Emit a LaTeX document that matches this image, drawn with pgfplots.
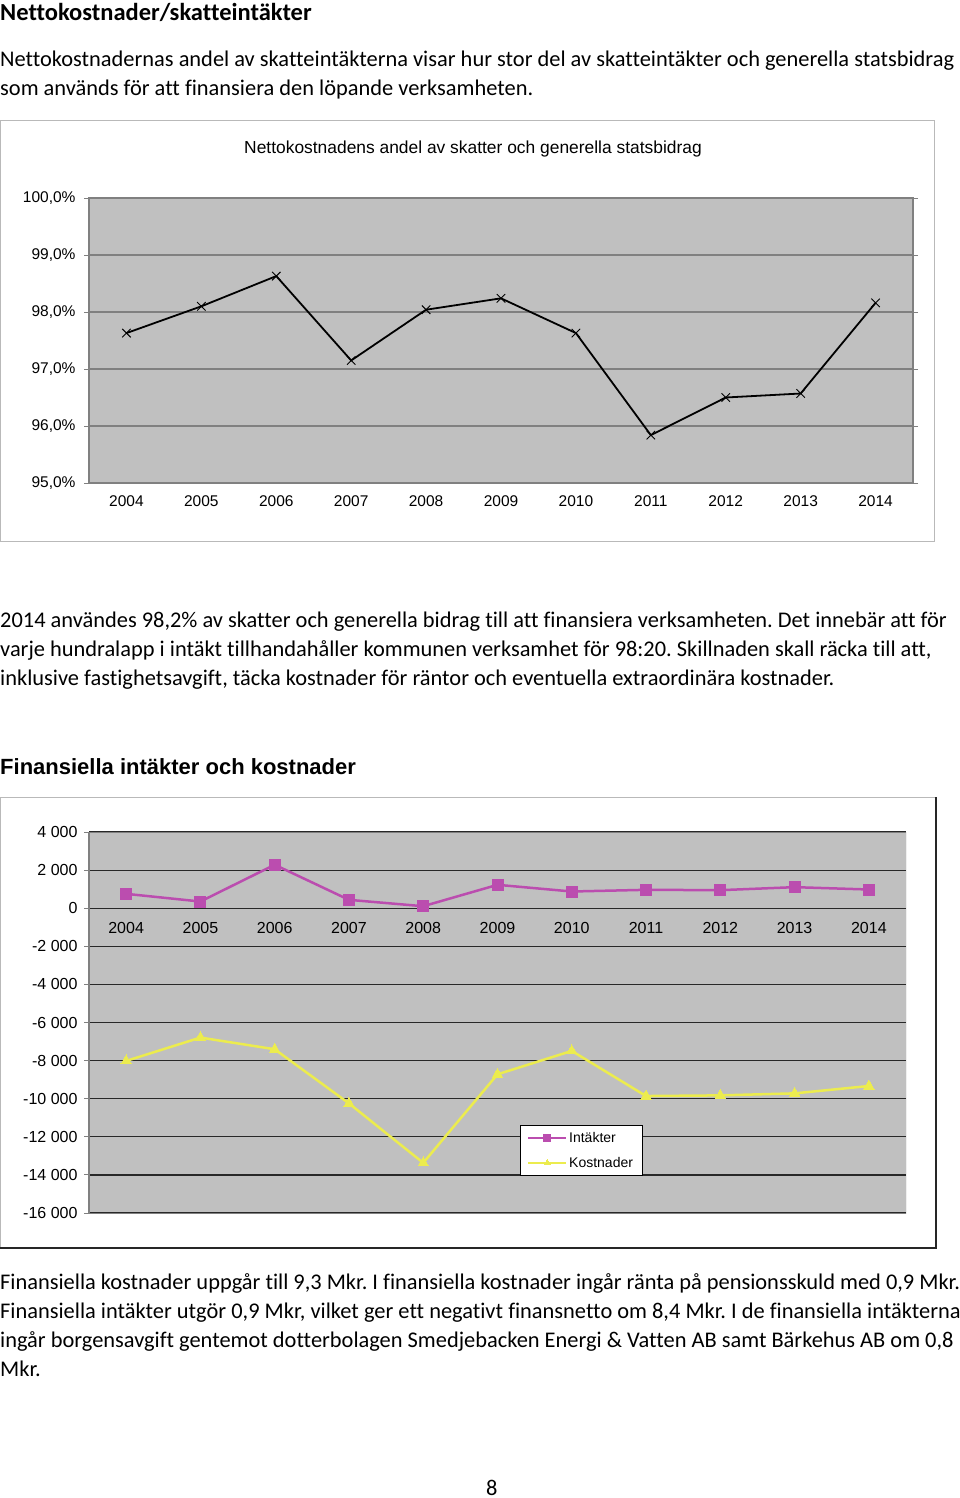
\documentclass[border=0pt]{standalone}
\usepackage{fontspec}
\setmainfont{Carlito}[Ligatures=NoCommon]
\newfontfamily\arial{Liberation Sans}
\usepackage{pgfplots}
\pgfplotsset{compat=1.18}
\frenchspacing

\definecolor{plotbg}{RGB}{192,192,192}
\definecolor{gridgray}{RGB}{128,128,128}
\definecolor{griddark}{RGB}{40,40,40}
\definecolor{intakt}{RGB}{187,77,175}
\definecolor{kostn}{RGB}{236,236,78}

\begin{document}
\begin{tikzpicture}
\useasboundingbox (0pt,0pt) rectangle (960pt,-1498pt);
\fill[white] (0pt,0pt) rectangle (960pt,-1498pt);

% --- page text
\node[anchor=base west, inner sep=0pt, font=\fontsize{24.5}{28}\selectfont\bfseries] at (0pt,-21pt) {Nettokostnader/skatteintäkter};
\begin{scope}[every node/.style={anchor=base west, inner sep=0pt, font=\fontsize{22.4}{29}\selectfont}]
  \node at (0pt,-67pt) {Nettokostnadernas andel av skatteintäkterna visar hur stor del av skatteintäkter och generella statsbidrag};
  \node at (0pt,-96pt) {som används för att finansiera den löpande verksamheten.};
  \node at (0pt,-627pt) {2014 användes 98,2\% av skatter och generella bidrag till att finansiera verksamheten. Det innebär att för};
  \node at (0pt,-656pt) {varje hundralapp i intäkt tillhandahåller kommunen verksamhet för 98:20. Skillnaden skall räcka till att,};
  \node at (0pt,-685pt) {inklusive fastighetsavgift, täcka kostnader för räntor och eventuella extraordinära kostnader.};
  \node at (0pt,-1289pt) {Finansiella kostnader uppgår till 9,3 Mkr. I finansiella kostnader ingår ränta på pensionsskuld med 0,9 Mkr.};
  \node at (0pt,-1318pt) {Finansiella intäkter utgör 0,9 Mkr, vilket ger ett negativt finansnetto om 8,4 Mkr. I de finansiella intäkterna};
  \node at (0pt,-1347pt) {ingår borgensavgift gentemot dotterbolagen Smedjebacken Energi \& Vatten AB samt Bärkehus AB om 0,8};
  \node at (0pt,-1376pt) {Mkr.};
  \node at (486pt,-1495pt) {8};
\end{scope}
\node[anchor=base west, inner sep=0pt, font=\arial\fontsize{22}{26}\selectfont\bfseries] at (0pt,-774pt) {Finansiella intäkter och kostnader};

% --- chart 1
\draw[gray!55, line width=1pt] (0.5pt,-120.5pt) rectangle (934pt,-541pt);
\node[font=\arial\fontsize{17.4}{20}\selectfont] at (473pt,-149pt) {Nettokostnadens andel av skatter och generella statsbidrag};

\begin{axis}[
  at={(89pt,-198pt)}, anchor=north west,
  scale only axis, width=824pt, height=285pt,
  xmin=-0.5, xmax=10.5, ymin=95, ymax=100,
  axis background/.style={fill=plotbg},
  axis line style={draw=gridgray, line width=1.2pt},
  xtick={0,...,10},
  xticklabels={2004,2005,2006,2007,2008,2009,2010,2011,2012,2013,2014},
  minor xtick={-0.5,0.5,...,10.5},
  ytick={95,96,...,100},
  ymajorgrids,
  major grid style={draw=gridgray, line width=1.2pt},
  tick align=outside,
  major tick length=5pt,
  xtick style={draw=none},
  minor tick length=7pt,
  minor tick style={draw=gridgray, line width=1pt},
  ytick style={draw=gridgray, line width=1pt},
  tick label style={font=\arial\fontsize{15.5}{18}\selectfont},
  xticklabel style={yshift=-4pt},
  yticklabel style={xshift=-5pt},
  yticklabel={\pgfmathprintnumber{\tick}\%},
  /pgf/number format/.cd, fixed, fixed zerofill, precision=1, use comma, assume math mode=true,
]
\addplot[black, line width=1.8pt, mark=x, mark size=6pt, mark options={line width=0.9pt}] coordinates {
  (0,97.63) (1,98.10) (2,98.63) (3,97.15) (4,98.04) (5,98.24)
  (6,97.63) (7,95.84) (8,96.50) (9,96.57) (10,98.16)
};
\end{axis}

% --- chart 2
\fill[white] (0.5pt,-797.5pt) rectangle (935pt,-1247pt);
\draw[gray!55, line width=1pt] (935pt,-797.5pt) -- (0.5pt,-797.5pt) -- (0.5pt,-1247pt);
\draw[black!85, line width=2.5pt] (936pt,-797pt) -- (936pt,-1248pt) -- (0pt,-1248pt);

\begin{axis}[
  at={(89pt,-832pt)}, anchor=north west,
  scale only axis, width=817pt, height=381pt,
  xmin=-0.5, xmax=10.5, ymin=-16000, ymax=4000,
  axis x line=middle, axis y line=left,
  axis background/.style={fill=plotbg},
  axis line style={-, draw=griddark, line width=1.2pt},
  y axis line style={draw=gridgray},
  xtick={0,...,10},
  xticklabels={2004,2005,2006,2007,2008,2009,2010,2011,2012,2013,2014},
  minor xtick={-0.5,0.5,...,10.5},
  ytick={-16000,-14000,...,4000},
  scaled y ticks=false,
  ymajorgrids,
  major grid style={draw=griddark, line width=1.2pt},
  tick align=outside,
  major tick length=5pt,
  xtick style={draw=none},
  minor tick length=7pt,
  minor tick style={draw=griddark, line width=1pt},
  ytick style={draw=gridgray, line width=1pt},
  tick label style={font=\arial\fontsize{16}{19}\selectfont},
  xticklabel style={yshift=-6pt},
  yticklabel style={xshift=-3pt},
  legend style={at={(0.5275,0.231)}, anchor=north west, draw=black, line width=0.8pt,
    fill=white, font=\arial\fontsize{14}{17}\selectfont, row sep=9pt,
    inner xsep=7pt, inner ysep=5pt},
  legend cell align=left,
  legend image code/.code={
    \draw[line width=1.8pt, mark size=3.5pt, mark repeat=2, mark phase=2]
      plot coordinates {(0pt,0pt) (19pt,0pt) (38pt,0pt)};
  },
  /pgf/number format/.cd, fixed, precision=0, 1000 sep={\ }, assume math mode=true,
]
\draw[gridgray, line width=1pt] (rel axis cs:0,0) rectangle (rel axis cs:1,1);
\addplot[intakt, line width=2.5pt, mark=square*, mark size=5.5pt, mark options={line width=0pt}] coordinates {
  (0,754) (1,351) (2,2281) (3,439) (4,105) (5,1228)
  (6,877) (7,965) (8,947) (9,1105) (10,982)
};
\addlegendentry{Intäkter}
\addplot[kostn, line width=2.5pt, mark=triangle*, mark size=6pt, mark options={line width=0pt}] coordinates {
  (0,-8018) (1,-6790) (2,-7404) (3,-10246) (4,-13368) (5,-8719)
  (6,-7491) (7,-9860) (8,-9825) (9,-9719) (10,-9333)
};
\addlegendentry{Kostnader}
\end{axis}
\end{tikzpicture}
\end{document}
